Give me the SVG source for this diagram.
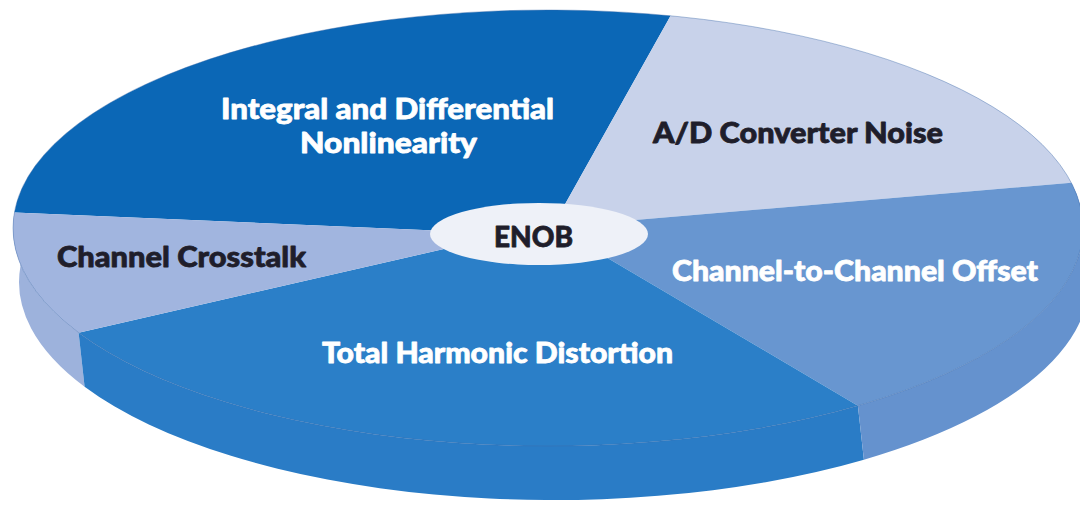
<svg xmlns="http://www.w3.org/2000/svg" width="1080" height="506" viewBox="0 0 1080 506">
  <style>
    .lbl { font-family: Lato, "Open Sans", "DejaVu Sans", sans-serif; font-weight: 900; font-size: 29px; stroke-width: 0.8; stroke-linejoin: round; }
    .light { fill: #ffffff; stroke: #ffffff; }
    .dark { fill: #1f1e2b; stroke: #1f1e2b; }
    .rim { fill: none; stroke: #3d6aa8; stroke-opacity: 0.4; stroke-width: 1; }
  </style>
  <rect width="1080" height="506" fill="#ffffff"/>

  <!-- Side wall of the disc (bottom ellipse offset by 6,54) -->
  <g id="sides">
    <path id="side-crosstalk" fill="#9db2dc"
      d="M14.4,212.4 A535,218 0 0 0 78.6,332.7 L84.6,386.7 A535,218 0 0 1 20.4,266.4 Z"/>
    <path id="side-thd" fill="#2a7cc6"
      d="M78.6,332.7 A535,218 0 0 0 857.9,405.7 L863.9,459.7 A535,218 0 0 1 84.6,386.7 Z"/>
    <path id="side-offset" fill="#6592ce"
      d="M857.9,405.7 A535,218 0 0 0 1071.4,182.8 L1077.4,236.8 A535,218 0 0 1 863.9,459.7 Z"/>
  </g>

  <!-- Top face slices, all meeting under the centre label -->
  <g id="slice-nonlinearity">
    <path fill="#0b67b6" d="M539,234 L470,232 L14.4,212.4 A535,218 0 0 1 670.6,15.8 L559,215 Z"/>
    <text class="lbl light" x="221" y="119" textLength="333" lengthAdjust="spacingAndGlyphs">Integral and Differential</text>
    <text class="lbl light" x="300" y="153" textLength="177" lengthAdjust="spacingAndGlyphs">Nonlinearity</text>
  </g>
  <g id="slice-adnoise">
    <path fill="#c8d2ea" d="M539,234 L559,215 L670.6,15.8 A535,218 0 0 1 1071.4,182.8 L600,223 Z"/>
    <text class="lbl dark" x="653" y="143" textLength="290" lengthAdjust="spacingAndGlyphs">A/D Converter Noise</text>
  </g>
  <g id="slice-offset">
    <path fill="#6896d0" d="M539,234 L600,223 L1071.4,182.8 A535,218 0 0 1 857.9,405.7 L595,250.6 Z"/>
    <text class="lbl light" x="672" y="281" textLength="366" lengthAdjust="spacingAndGlyphs">Channel-to-Channel Offset</text>
  </g>
  <g id="slice-thd">
    <path fill="#2b7fc8" d="M539,234 L595,250.6 L857.9,405.7 A535,218 0 0 1 78.6,332.7 L470,243 Z"/>
    <text class="lbl light" x="322" y="363" textLength="351" lengthAdjust="spacingAndGlyphs">Total Harmonic Distortion</text>
  </g>
  <g id="slice-crosstalk">
    <path fill="#a1b5df" d="M539,234 L470,243 L78.6,332.7 A535,218 0 0 1 14.4,212.4 L470,232 Z"/>
    <text class="lbl dark" x="57" y="267" textLength="249" lengthAdjust="spacingAndGlyphs">Channel Crosstalk</text>
  </g>

  <!-- Faint outline of the top face -->
  <ellipse class="rim" cx="548" cy="228" rx="535" ry="218"/>

  <g id="enob">
    <ellipse cx="539" cy="234" rx="109" ry="31" fill="#eef1f8"/>
    <text class="lbl dark" x="494" y="247" textLength="79" lengthAdjust="spacingAndGlyphs">ENOB</text>
  </g>
</svg>
